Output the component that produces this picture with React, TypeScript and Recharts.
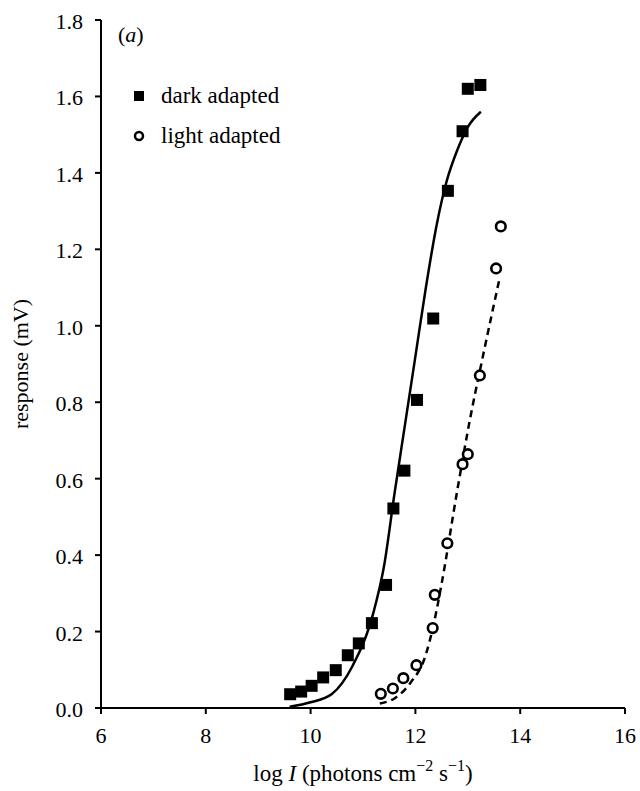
import {
  ComposedChart,
  Line,
  Scatter,
  XAxis,
  YAxis,
  Legend,
  Label,
} from "recharts";

// measured points: [log I, response mV]
const darkAdapted = [
  [9.61, 0.036], [9.82, 0.043], [10.02, 0.058], [10.24, 0.08], [10.48, 0.099],
  [10.71, 0.138], [10.92, 0.169], [11.17, 0.222], [11.44, 0.322], [11.58, 0.522],
  [11.79, 0.621], [12.03, 0.806], [12.34, 1.019], [12.62, 1.353], [12.9, 1.509],
  [13.0, 1.62], [13.24, 1.63],
];

const lightAdapted = [
  [11.34, 0.037], [11.57, 0.051], [11.77, 0.078], [12.02, 0.112], [12.33, 0.209],
  [12.37, 0.296], [12.61, 0.431], [12.9, 0.638], [13.0, 0.664], [13.23, 0.87],
  [13.54, 1.15], [13.63, 1.26],
];

// fitted curves
const darkFit = [
  [9.6, 0.003], [10.0, 0.015], [10.4, 0.036], [10.8, 0.11], [11.2, 0.25],
  [11.4, 0.37], [11.6, 0.56], [11.8, 0.74], [12.0, 0.92], [12.2, 1.1],
  [12.4, 1.26], [12.6, 1.38], [12.8, 1.46], [13.0, 1.52], [13.25, 1.56],
];

const lightFit = [
  [11.32, 0.012], [11.6, 0.025], [11.9, 0.065], [12.2, 0.14], [12.35, 0.22],
  [12.5, 0.325], [12.8, 0.57], [13.04, 0.754], [13.3, 0.928], [13.6, 1.12],
];

const xTicks = [6, 8, 10, 12, 14, 16];
const yTicks = [0, 0.2, 0.4, 0.6, 0.8, 1.0, 1.2, 1.4, 1.6, 1.8];

const toRows = (arr: number[][]) => arr.map(([x, y]) => ({ x, y }));

const FONT = "'Liberation Serif', 'Times New Roman', serif";
const FS = 22;

const SquareDot = (props: any) => {
  const { cx, cy } = props;
  if (cx == null || cy == null) return null;
  return <rect x={cx - 6} y={cy - 6} width={12} height={12} fill="#000" />;
};

const CircleDot = (props: any) => {
  const { cx, cy } = props;
  if (cx == null || cy == null) return null;
  return <circle cx={cx} cy={cy} r={4.8} fill="#fff" stroke="#000" strokeWidth={2.6} />;
};

const XTick = (props: any) => {
  const { x, y, payload } = props;
  return (
    <text x={x} y={y + 27} textAnchor="middle" fontFamily={FONT} fontSize={FS} fill="#000">
      {payload.value}
    </text>
  );
};

const YTick = (props: any) => {
  const { x, y, payload } = props;
  return (
    <text x={x} y={y + 9} textAnchor="end" fontFamily={FONT} fontSize={FS} fill="#000">
      {Number(payload.value).toFixed(1)}
    </text>
  );
};

const LegendBox = () => (
  <div style={{ fontFamily: FONT, fontSize: FS + 1, color: "#000", lineHeight: 1 }}>
    <div style={{ fontSize: FS, marginLeft: -15 }}>
      (<i>a</i>)
    </div>
    <div style={{ display: "flex", alignItems: "center", marginTop: 38 }}>
      <svg width={12} height={12} style={{ marginRight: 16 }}>
        <rect x={1} y={1} width={10} height={10} fill="#000" />
      </svg>
      dark adapted
    </div>
    <div style={{ display: "flex", alignItems: "center", marginTop: 17 }}>
      <svg width={12} height={12} style={{ marginRight: 16 }}>
        <circle cx={6} cy={6} r={4} fill="#fff" stroke="#000" strokeWidth={2.5} />
      </svg>
      light adapted
    </div>
  </div>
);

const XLabel = (props: any) => {
  const vb = props.viewBox || {};
  const cx = vb.x + vb.width / 2;
  return (
    <text x={cx} y={781} textAnchor="middle" fontFamily={FONT} fontSize={FS + 1} fill="#000">
      log <tspan fontStyle="italic">I</tspan> (photons cm
      <tspan dy={-10} fontSize={16}>−2</tspan>
      <tspan dy={10}> s</tspan>
      <tspan dy={-10} fontSize={16}>−1</tspan>
      <tspan dy={10}>)</tspan>
    </text>
  );
};

export default function App() {
  return (
    <div style={{ position: "absolute", left: 0, top: 0, background: "#fff" }}>
      <ComposedChart
        width={640}
        height={791}
        margin={{ top: 20, right: 15, left: 0, bottom: 0 }}
      >
        <XAxis
          type="number"
          dataKey="x"
          domain={[6, 16]}
          ticks={xTicks}
          height={83}
          stroke="#000"
          strokeWidth={2}
          tickSize={6}
          tick={<XTick />}
          allowDataOverflow
        >
          <Label content={<XLabel />} />
        </XAxis>
        <YAxis
          type="number"
          dataKey="y"
          domain={[0, 1.8]}
          ticks={yTicks}
          width={101}
          stroke="#000"
          strokeWidth={2}
          tickSize={6}
          tickMargin={12}
          tick={<YTick />}
          allowDataOverflow
        >
          <Label
            value="response (mV)"
            angle={-90}
            position="insideLeft"
            offset={20}
            style={{ textAnchor: "middle", fill: "#000", fontFamily: FONT, fontSize: FS }}
          />
        </YAxis>
        <Legend
          layout="vertical"
          verticalAlign="middle"
          align="center"
          content={<LegendBox />}
          wrapperStyle={{ left: 133, top: 24, width: 220 }}
        />
        <Line
          data={toRows(darkFit)}
          dataKey="y"
          type="monotone"
          stroke="#000"
          strokeWidth={2.5}
          dot={false}
          activeDot={false}
          legendType="none"
          isAnimationActive={false}
        />
        <Line
          data={toRows(lightFit)}
          dataKey="y"
          type="monotone"
          stroke="#000"
          strokeWidth={2.5}
          strokeDasharray="7 5"
          dot={false}
          activeDot={false}
          legendType="none"
          isAnimationActive={false}
        />
        <Scatter
          name="dark adapted"
          data={toRows(darkAdapted)}
          dataKey="y"
          shape={<SquareDot />}
          isAnimationActive={false}
        />
        <Scatter
          name="light adapted"
          data={toRows(lightAdapted)}
          dataKey="y"
          shape={<CircleDot />}
          isAnimationActive={false}
        />
      </ComposedChart>
    </div>
  );
}
